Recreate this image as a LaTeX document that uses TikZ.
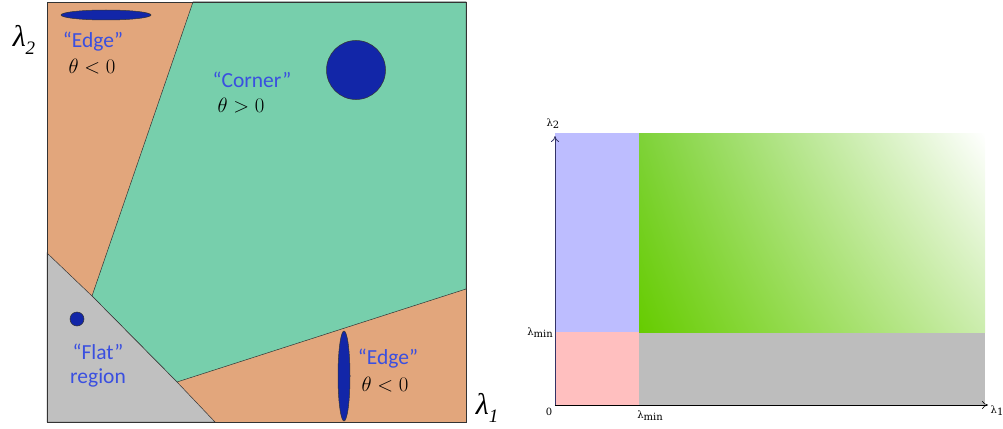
\documentclass[tikz,border=0pt]{standalone}
\usepackage{fontspec}
\setmainfont{Carlito}
\newfontfamily\slabfont{DejaVu Serif}
\newfontfamily\lamfont{Liberation Serif}
\usetikzlibrary{arrows.meta,shadings}
\definecolor{edgeorange}{HTML}{E2A67C}
\definecolor{cornergreen}{HTML}{77CFAC}
\definecolor{flatgray}{HTML}{C0C0C0}
\definecolor{blobblue}{HTML}{1226A8}
\definecolor{labblue}{HTML}{3A4FE0}
\definecolor{zoneblue}{HTML}{BDBDFF}
\definecolor{zonepink}{HTML}{FFBFBF}
\definecolor{zonegray}{HTML}{BDBDBD}
\definecolor{zonegreen}{HTML}{66CC00}
\definecolor{zonegreentop}{HTML}{7ED238}
\definecolor{zonegreenfar}{HTML}{CCEDAE}
\definecolor{axisblue}{HTML}{333366}

\begin{document}
\begin{tikzpicture}[x=1pt, y=-1pt, >={To[length=6pt,width=8pt]},
  region/.style={draw=black!80, line width=0.5pt},
  blob/.style={draw=black!80, fill=blobblue, line width=0.5pt},
  lab/.style={font=\fontsize{21.5}{24}\selectfont, text=labblue, inner sep=0pt},
  cond/.style={font=\fontsize{21.5}{24}\selectfont, inner sep=0pt},
  ax/.style={font=\lamfont\itshape\fontsize{30}{32}\selectfont, inner sep=0pt},
  tick/.style={font=\slabfont\fontsize{10}{12}\selectfont, inner sep=0pt}]
\useasboundingbox (0,0) rectangle (1003,428);
% left: classification of the eigenvalue plane
\fill[edgeorange] (47,2) rectangle (466,422);
\filldraw[region, fill=cornergreen] (193,2) -- (466,2) -- (466,289) -- (177,382) -- (92,296) -- cycle;
\filldraw[region, fill=flatgray] (47,253) -- (92,296) -- (177,382) -- (215,422) -- (47,422) -- cycle;
\draw[region] (47,2) rectangle (466,422);
\draw[blob] (106,15) ellipse [x radius=45, y radius=5];
\draw[blob] (356,70) circle [radius=29.5];
\draw[blob] (77,319) circle [radius=7];
\draw[blob] (344,376) ellipse [x radius=6, y radius=45];
\node[lab] (edgetop) at (93,42) {``Edge''};
\node[cond] (edgetopc) at (92,67) {$\theta < 0$};
\node[lab] (corner) at (252,80) {``Corner''};
\node[cond] (cornerc) at (241,106) {$\theta > 0$};
\node[lab, align=center] (flat) at (98,366) {``Flat''\\region};
\node[lab] (edgebot) at (388,359) {``Edge''};
\node[cond] (edgebotc) at (385,385) {$\theta < 0$};
\node[ax] (lamtwo) at (24,40) {λ\raisebox{-0.25em}{\fontsize{19}{20}\selectfont 2}};
\node[ax] (lamone) at (487,408) {λ\raisebox{-0.25em}{\fontsize{19}{20}\selectfont 1}};
% right: thresholded response
\coordinate (orig) at (555,405);
\coordinate (ytop) at (555,136);
\coordinate (xend) at (988,405);
\fill[zoneblue] (555,133) rectangle (639,332);
\fill[zonepink] (555,332) rectangle (639,405);
\fill[zonegray] (639,332) rectangle (985,405);
\shade[lower left=zonegreen, upper left=zonegreentop, upper right=white, lower right=zonegreenfar] (639,133) rectangle (985,332);
\draw[->, axisblue, line width=0.8pt] (orig) -- (ytop);
\draw[->, line width=0.6pt] (orig) -- (xend);
\node[tick] (zero) at (549,412) {0};
\node[tick] (lminx) at (650,416) {λ\raisebox{-0.35ex}{min}};
\node[tick, anchor=east] (lminy) at (553,333) {λ\raisebox{-0.35ex}{min}};
\node[tick] (lone) at (997,411) {λ\raisebox{-0.35ex}{1}};
\node[tick] (ltwo) at (553,124) {λ\raisebox{-0.35ex}{2}};
\end{tikzpicture}
\end{document}
